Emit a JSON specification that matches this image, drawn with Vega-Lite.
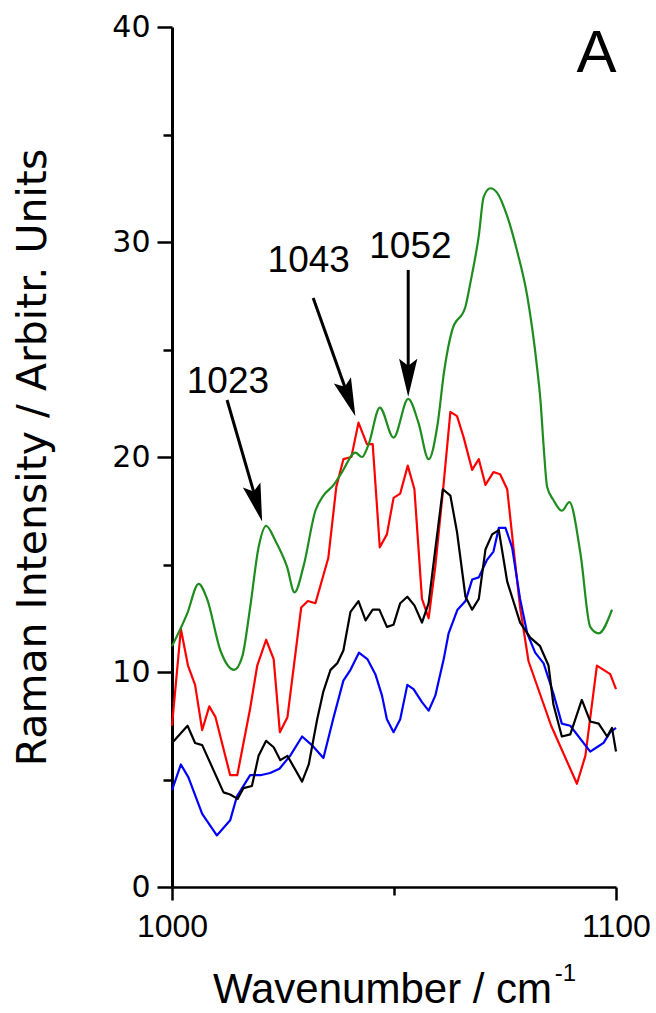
{
  "$schema": "https://vega.github.io/schema/vega-lite/v6.json",
  "width": 444,
  "height": 860,
  "autosize": {"type": "none"},
  "padding": {"left": 172, "top": 27, "right": 40, "bottom": 126},
  "background": "white",
  "config": {
    "view": {"stroke": null},
    "axis": {"grid": false, "domainColor": "black", "tickColor": "black", "labelColor": "black", "titleColor": "black"}
  },
  "datasets": {
    "spectra": [
      {"series": "green", "wn": 1000.0, "intensity": 11.2},
      {"series": "green", "wn": 1003.4, "intensity": 12.7},
      {"series": "green", "wn": 1006.0, "intensity": 14.1},
      {"series": "green", "wn": 1007.9, "intensity": 13.4},
      {"series": "green", "wn": 1010.9, "intensity": 11.0},
      {"series": "green", "wn": 1014.0, "intensity": 10.1},
      {"series": "green", "wn": 1015.8, "intensity": 10.7},
      {"series": "green", "wn": 1017.6, "intensity": 13.0},
      {"series": "green", "wn": 1019.5, "intensity": 15.8},
      {"series": "green", "wn": 1021.2, "intensity": 16.8},
      {"series": "green", "wn": 1023.3, "intensity": 16.1},
      {"series": "green", "wn": 1025.9, "intensity": 14.9},
      {"series": "green", "wn": 1027.6, "intensity": 13.7},
      {"series": "green", "wn": 1029.6, "intensity": 14.9},
      {"series": "green", "wn": 1032.3, "intensity": 17.5},
      {"series": "green", "wn": 1034.1, "intensity": 18.2},
      {"series": "green", "wn": 1036.4, "intensity": 18.7},
      {"series": "green", "wn": 1038.3, "intensity": 19.3},
      {"series": "green", "wn": 1041.3, "intensity": 20.2},
      {"series": "green", "wn": 1042.8, "intensity": 20.0},
      {"series": "green", "wn": 1044.3, "intensity": 20.6},
      {"series": "green", "wn": 1046.8, "intensity": 22.3},
      {"series": "green", "wn": 1049.9, "intensity": 20.9},
      {"series": "green", "wn": 1053.2, "intensity": 22.7},
      {"series": "green", "wn": 1055.5, "intensity": 21.6},
      {"series": "green", "wn": 1057.8, "intensity": 19.9},
      {"series": "green", "wn": 1059.8, "intensity": 21.5},
      {"series": "green", "wn": 1061.3, "intensity": 24.0},
      {"series": "green", "wn": 1063.1, "intensity": 25.9},
      {"series": "green", "wn": 1066.1, "intensity": 27.0},
      {"series": "green", "wn": 1067.2, "intensity": 28.1},
      {"series": "green", "wn": 1069.1, "intensity": 30.3},
      {"series": "green", "wn": 1070.2, "intensity": 32.1},
      {"series": "green", "wn": 1071.7, "intensity": 32.5},
      {"series": "green", "wn": 1073.2, "intensity": 32.3},
      {"series": "green", "wn": 1075.5, "intensity": 31.2},
      {"series": "green", "wn": 1077.7, "intensity": 29.6},
      {"series": "green", "wn": 1080.0, "intensity": 27.5},
      {"series": "green", "wn": 1082.2, "intensity": 24.2},
      {"series": "green", "wn": 1083.0, "intensity": 22.6},
      {"series": "green", "wn": 1083.7, "intensity": 20.5},
      {"series": "green", "wn": 1084.5, "intensity": 18.6},
      {"series": "green", "wn": 1085.9, "intensity": 18.0},
      {"series": "green", "wn": 1087.8, "intensity": 17.5},
      {"series": "green", "wn": 1089.5, "intensity": 17.9},
      {"series": "green", "wn": 1092.0, "intensity": 15.5},
      {"series": "green", "wn": 1094.2, "intensity": 12.1},
      {"series": "green", "wn": 1096.1, "intensity": 11.8},
      {"series": "green", "wn": 1099.1, "intensity": 12.9},

      {"series": "red", "wn": 1000.0, "intensity": 7.5},
      {"series": "red", "wn": 1002.0, "intensity": 12.0},
      {"series": "red", "wn": 1003.6, "intensity": 10.3},
      {"series": "red", "wn": 1005.2, "intensity": 9.4},
      {"series": "red", "wn": 1006.8, "intensity": 7.3},
      {"series": "red", "wn": 1008.4, "intensity": 8.4},
      {"series": "red", "wn": 1009.8, "intensity": 7.9},
      {"series": "red", "wn": 1013.1, "intensity": 5.2},
      {"series": "red", "wn": 1014.7, "intensity": 5.2},
      {"series": "red", "wn": 1017.6, "intensity": 8.3},
      {"series": "red", "wn": 1019.2, "intensity": 10.3},
      {"series": "red", "wn": 1021.2, "intensity": 11.5},
      {"series": "red", "wn": 1022.9, "intensity": 10.6},
      {"series": "red", "wn": 1024.3, "intensity": 7.2},
      {"series": "red", "wn": 1026.0, "intensity": 7.9},
      {"series": "red", "wn": 1029.1, "intensity": 13.0},
      {"series": "red", "wn": 1030.6, "intensity": 13.3},
      {"series": "red", "wn": 1032.3, "intensity": 13.2},
      {"series": "red", "wn": 1035.2, "intensity": 15.3},
      {"series": "red", "wn": 1037.0, "intensity": 18.6},
      {"series": "red", "wn": 1038.6, "intensity": 19.9},
      {"series": "red", "wn": 1040.4, "intensity": 20.0},
      {"series": "red", "wn": 1042.0, "intensity": 21.6},
      {"series": "red", "wn": 1043.9, "intensity": 20.6},
      {"series": "red", "wn": 1045.2, "intensity": 20.6},
      {"series": "red", "wn": 1046.8, "intensity": 15.8},
      {"series": "red", "wn": 1048.4, "intensity": 16.4},
      {"series": "red", "wn": 1049.9, "intensity": 18.1},
      {"series": "red", "wn": 1051.4, "intensity": 18.3},
      {"series": "red", "wn": 1053.1, "intensity": 19.6},
      {"series": "red", "wn": 1054.6, "intensity": 18.5},
      {"series": "red", "wn": 1056.3, "intensity": 13.4},
      {"series": "red", "wn": 1057.8, "intensity": 12.5},
      {"series": "red", "wn": 1059.3, "intensity": 14.9},
      {"series": "red", "wn": 1061.2, "intensity": 18.8},
      {"series": "red", "wn": 1062.7, "intensity": 22.1},
      {"series": "red", "wn": 1064.2, "intensity": 21.9},
      {"series": "red", "wn": 1065.7, "intensity": 20.9},
      {"series": "red", "wn": 1067.6, "intensity": 19.4},
      {"series": "red", "wn": 1069.1, "intensity": 19.9},
      {"series": "red", "wn": 1070.6, "intensity": 18.7},
      {"series": "red", "wn": 1072.4, "intensity": 19.3},
      {"series": "red", "wn": 1073.9, "intensity": 19.2},
      {"series": "red", "wn": 1075.5, "intensity": 18.5},
      {"series": "red", "wn": 1076.9, "intensity": 15.8},
      {"series": "red", "wn": 1078.4, "intensity": 13.0},
      {"series": "red", "wn": 1080.3, "intensity": 10.5},
      {"series": "red", "wn": 1085.4, "intensity": 7.5},
      {"series": "red", "wn": 1091.2, "intensity": 4.8},
      {"series": "red", "wn": 1093.1, "intensity": 6.1},
      {"series": "red", "wn": 1095.7, "intensity": 10.3},
      {"series": "red", "wn": 1098.7, "intensity": 9.9},
      {"series": "red", "wn": 1100.0, "intensity": 9.2},

      {"series": "blue", "wn": 1000.0, "intensity": 4.5},
      {"series": "blue", "wn": 1002.0, "intensity": 5.7},
      {"series": "blue", "wn": 1003.7, "intensity": 5.1},
      {"series": "blue", "wn": 1006.8, "intensity": 3.4},
      {"series": "blue", "wn": 1010.1, "intensity": 2.4},
      {"series": "blue", "wn": 1013.1, "intensity": 3.1},
      {"series": "blue", "wn": 1014.6, "intensity": 4.2},
      {"series": "blue", "wn": 1017.6, "intensity": 5.2},
      {"series": "blue", "wn": 1019.9, "intensity": 5.2},
      {"series": "blue", "wn": 1022.1, "intensity": 5.3},
      {"series": "blue", "wn": 1024.2, "intensity": 5.5},
      {"series": "blue", "wn": 1026.6, "intensity": 6.1},
      {"series": "blue", "wn": 1029.3, "intensity": 7.0},
      {"series": "blue", "wn": 1031.5, "intensity": 6.6},
      {"series": "blue", "wn": 1034.1, "intensity": 6.0},
      {"series": "blue", "wn": 1036.4, "intensity": 7.9},
      {"series": "blue", "wn": 1038.6, "intensity": 9.6},
      {"series": "blue", "wn": 1040.2, "intensity": 10.1},
      {"series": "blue", "wn": 1042.1, "intensity": 10.9},
      {"series": "blue", "wn": 1044.0, "intensity": 10.6},
      {"series": "blue", "wn": 1045.8, "intensity": 9.9},
      {"series": "blue", "wn": 1047.3, "intensity": 8.9},
      {"series": "blue", "wn": 1048.4, "intensity": 7.8},
      {"series": "blue", "wn": 1049.9, "intensity": 7.2},
      {"series": "blue", "wn": 1051.4, "intensity": 7.8},
      {"series": "blue", "wn": 1053.0, "intensity": 9.4},
      {"series": "blue", "wn": 1054.4, "intensity": 9.2},
      {"series": "blue", "wn": 1056.3, "intensity": 8.6},
      {"series": "blue", "wn": 1057.8, "intensity": 8.2},
      {"series": "blue", "wn": 1059.3, "intensity": 8.9},
      {"series": "blue", "wn": 1061.2, "intensity": 10.6},
      {"series": "blue", "wn": 1062.3, "intensity": 11.8},
      {"series": "blue", "wn": 1064.3, "intensity": 12.9},
      {"series": "blue", "wn": 1066.1, "intensity": 13.3},
      {"series": "blue", "wn": 1067.6, "intensity": 14.3},
      {"series": "blue", "wn": 1069.1, "intensity": 14.4},
      {"series": "blue", "wn": 1070.9, "intensity": 15.2},
      {"series": "blue", "wn": 1072.4, "intensity": 15.6},
      {"series": "blue", "wn": 1073.6, "intensity": 16.7},
      {"series": "blue", "wn": 1075.1, "intensity": 16.7},
      {"series": "blue", "wn": 1076.6, "intensity": 15.8},
      {"series": "blue", "wn": 1078.4, "intensity": 13.4},
      {"series": "blue", "wn": 1080.0, "intensity": 11.8},
      {"series": "blue", "wn": 1081.8, "intensity": 10.9},
      {"series": "blue", "wn": 1083.7, "intensity": 10.4},
      {"series": "blue", "wn": 1085.9, "intensity": 9.0},
      {"series": "blue", "wn": 1087.8, "intensity": 7.6},
      {"series": "blue", "wn": 1089.7, "intensity": 7.5},
      {"series": "blue", "wn": 1094.2, "intensity": 6.3},
      {"series": "blue", "wn": 1095.7, "intensity": 6.5},
      {"series": "blue", "wn": 1097.2, "intensity": 6.7},
      {"series": "blue", "wn": 1098.7, "intensity": 7.2},
      {"series": "blue", "wn": 1100.0, "intensity": 7.4},

      {"series": "black", "wn": 1000.0, "intensity": 6.7},
      {"series": "black", "wn": 1003.5, "intensity": 7.5},
      {"series": "black", "wn": 1005.2, "intensity": 6.7},
      {"series": "black", "wn": 1006.8, "intensity": 6.6},
      {"series": "black", "wn": 1011.6, "intensity": 4.4},
      {"series": "black", "wn": 1013.1, "intensity": 4.3},
      {"series": "black", "wn": 1014.8, "intensity": 4.1},
      {"series": "black", "wn": 1016.1, "intensity": 4.6},
      {"series": "black", "wn": 1018.0, "intensity": 4.7},
      {"series": "black", "wn": 1019.5, "intensity": 6.1},
      {"series": "black", "wn": 1021.2, "intensity": 6.8},
      {"series": "black", "wn": 1022.9, "intensity": 6.5},
      {"series": "black", "wn": 1024.4, "intensity": 5.9},
      {"series": "black", "wn": 1026.0, "intensity": 6.1},
      {"series": "black", "wn": 1029.3, "intensity": 4.9},
      {"series": "black", "wn": 1030.8, "intensity": 5.7},
      {"series": "black", "wn": 1032.7, "intensity": 7.8},
      {"series": "black", "wn": 1034.1, "intensity": 9.1},
      {"series": "black", "wn": 1035.7, "intensity": 10.1},
      {"series": "black", "wn": 1037.2, "intensity": 10.4},
      {"series": "black", "wn": 1038.6, "intensity": 11.0},
      {"series": "black", "wn": 1040.2, "intensity": 12.8},
      {"series": "black", "wn": 1042.0, "intensity": 13.3},
      {"series": "black", "wn": 1043.6, "intensity": 12.4},
      {"series": "black", "wn": 1045.2, "intensity": 12.9},
      {"series": "black", "wn": 1046.7, "intensity": 12.9},
      {"series": "black", "wn": 1048.4, "intensity": 12.1},
      {"series": "black", "wn": 1049.9, "intensity": 12.2},
      {"series": "black", "wn": 1051.4, "intensity": 13.2},
      {"series": "black", "wn": 1053.0, "intensity": 13.5},
      {"series": "black", "wn": 1054.6, "intensity": 13.1},
      {"series": "black", "wn": 1056.3, "intensity": 12.3},
      {"series": "black", "wn": 1057.8, "intensity": 13.2},
      {"series": "black", "wn": 1059.3, "intensity": 15.7},
      {"series": "black", "wn": 1061.0, "intensity": 18.5},
      {"series": "black", "wn": 1062.7, "intensity": 18.2},
      {"series": "black", "wn": 1064.2, "intensity": 16.5},
      {"series": "black", "wn": 1066.1, "intensity": 13.5},
      {"series": "black", "wn": 1067.6, "intensity": 12.9},
      {"series": "black", "wn": 1069.1, "intensity": 13.4},
      {"series": "black", "wn": 1070.6, "intensity": 15.7},
      {"series": "black", "wn": 1072.1, "intensity": 16.4},
      {"series": "black", "wn": 1073.6, "intensity": 16.6},
      {"series": "black", "wn": 1075.5, "intensity": 14.2},
      {"series": "black", "wn": 1078.4, "intensity": 12.3},
      {"series": "black", "wn": 1080.7, "intensity": 11.6},
      {"series": "black", "wn": 1082.9, "intensity": 11.2},
      {"series": "black", "wn": 1084.8, "intensity": 10.3},
      {"series": "black", "wn": 1085.9, "intensity": 8.5},
      {"series": "black", "wn": 1087.8, "intensity": 7.0},
      {"series": "black", "wn": 1089.7, "intensity": 7.1},
      {"series": "black", "wn": 1092.3, "intensity": 8.7},
      {"series": "black", "wn": 1094.2, "intensity": 7.7},
      {"series": "black", "wn": 1096.1, "intensity": 7.6},
      {"series": "black", "wn": 1098.0, "intensity": 7.0},
      {"series": "black", "wn": 1099.1, "intensity": 7.4},
      {"series": "black", "wn": 1100.0, "intensity": 6.3}
    ],
    "peaks": [
      {"peak": "1023", "wn": 1012.6, "intensity": 22.96},
      {"peak": "1043", "wn": 1030.8, "intensity": 28.62},
      {"peak": "1052", "wn": 1053.7, "intensity": 29.24}
    ],
    "arrows": [
      {"peak": "1023", "wn": 1012.4, "intensity": 22.65, "wn_end": 1019.1, "intensity_end": 17.88},
      {"peak": "1043", "wn": 1031.8, "intensity": 27.4, "wn_end": 1039.8, "intensity_end": 22.75},
      {"peak": "1052", "wn": 1053.2, "intensity": 28.7, "wn_end": 1053.2, "intensity_end": 23.7}
    ],
    "tips": [
      {"peak": "1023", "wn": 1020.3, "intensity": 17.0},
      {"peak": "1043", "wn": 1041.3, "intensity": 21.9},
      {"peak": "1052", "wn": 1053.2, "intensity": 22.8}
    ],
    "panel": [
      {"tag": "A", "wn": 1095.6, "intensity": 37.9}
    ],
    "unit": [
      {"sup": "-1", "wn": 1088.6, "intensity": -4.35}
    ]
  },
  "layer": [
    {
      "data": {"name": "spectra"},
      "transform": [{"filter": "datum.series !== 'green'"}],
      "mark": {"type": "line", "strokeWidth": 2.2, "strokeJoin": "round"},
      "encoding": {
        "x": {
          "field": "wn", "type": "quantitative",
          "scale": {"domain": [1000, 1100], "nice": false, "zero": false},
          "axis": {
            "values": [1000, 1050, 1100],
            "format": "d",
            "labelExpr": "datum.value === 1050 ? '' : datum.label",
            "labelFont": "Liberation Sans", "labelFontSize": 32, "labelPadding": 11, "labelFlush": false,
            "tickSize": {"condition": {"test": "datum.value === 1050", "value": 8}, "value": 13},
            "tickWidth": 2.5, "domainWidth": 2.5,
            "title": "Wavenumber / cm",
            "titleFont": "Liberation Sans", "titleFontSize": 42, "titleFontWeight": "normal",
            "titleX": 210, "titleY": 115, "titleAlign": "center", "titleBaseline": "alphabetic"
          }
        },
        "y": {
          "field": "intensity", "type": "quantitative",
          "scale": {"domain": [0, 40], "nice": false, "zero": false},
          "axis": {
            "values": [0, 5, 10, 15, 20, 25, 30, 35, 40],
            "labelExpr": "datum.value % 10 === 0 ? datum.label : ''",
            "labelFont": "DejaVu Sans", "labelFontSize": 30, "labelPadding": 7,
            "tickSize": {"condition": {"test": "datum.value % 10 !== 0", "value": 9}, "value": 15},
            "tickWidth": 2.5, "domainWidth": 3,
            "title": "Raman Intensity / Arbitr. Units",
            "titleFont": "DejaVu Sans", "titleFontSize": 41, "titleFontWeight": "normal",
            "titleX": -127, "titleY": 430, "titleAngle": -90, "titleAlign": "center", "titleBaseline": "alphabetic"
          }
        },
        "color": {
          "field": "series", "type": "nominal",
          "scale": {"domain": ["green", "red", "blue", "black"], "range": ["#1e8c1e", "#ff0000", "#0000ff", "#000000"]},
          "legend": null
        }
      }
    },
    {
      "data": {"name": "spectra"},
      "transform": [{"filter": "datum.series === 'green'"}],
      "mark": {"type": "line", "strokeWidth": 2.2, "interpolate": "monotone"},
      "encoding": {
        "x": {"field": "wn", "type": "quantitative"},
        "y": {"field": "intensity", "type": "quantitative"},
        "color": {"field": "series", "type": "nominal", "legend": null}
      }
    },
    {
      "data": {"name": "arrows"},
      "mark": {"type": "rule", "strokeWidth": 3, "color": "black"},
      "encoding": {
        "x": {"field": "wn", "type": "quantitative"},
        "y": {"field": "intensity", "type": "quantitative"},
        "x2": {"field": "wn_end"},
        "y2": {"field": "intensity_end"}
      }
    },
    {
      "data": {"name": "tips"},
      "transform": [{"filter": "datum.peak === '1023'"}],
      "mark": {"type": "point", "shape": "M0,0 L0.24,1 L0,0.82 L-0.24,1 Z", "size": 5776, "filled": true, "color": "black", "opacity": 1, "angle": 164},
      "encoding": {
        "x": {"field": "wn", "type": "quantitative"},
        "y": {"field": "intensity", "type": "quantitative"}
      }
    },
    {
      "data": {"name": "tips"},
      "transform": [{"filter": "datum.peak === '1043'"}],
      "mark": {"type": "point", "shape": "M0,0 L0.24,1 L0,0.82 L-0.24,1 Z", "size": 5776, "filled": true, "color": "black", "opacity": 1, "angle": 160},
      "encoding": {
        "x": {"field": "wn", "type": "quantitative"},
        "y": {"field": "intensity", "type": "quantitative"}
      }
    },
    {
      "data": {"name": "tips"},
      "transform": [{"filter": "datum.peak === '1052'"}],
      "mark": {"type": "point", "shape": "M0,0 L0.24,1 L0,0.82 L-0.24,1 Z", "size": 5776, "filled": true, "color": "black", "opacity": 1, "angle": 180},
      "encoding": {
        "x": {"field": "wn", "type": "quantitative"},
        "y": {"field": "intensity", "type": "quantitative"}
      }
    },
    {
      "data": {"name": "peaks"},
      "mark": {"type": "text", "font": "Liberation Sans", "fontSize": 37, "align": "center", "baseline": "alphabetic", "color": "black"},
      "encoding": {
        "x": {"field": "wn", "type": "quantitative"},
        "y": {"field": "intensity", "type": "quantitative"},
        "text": {"field": "peak"}
      }
    },
    {
      "data": {"name": "panel"},
      "mark": {"type": "text", "font": "Liberation Sans", "fontSize": 60, "align": "center", "baseline": "alphabetic", "color": "black"},
      "encoding": {
        "x": {"field": "wn", "type": "quantitative"},
        "y": {"field": "intensity", "type": "quantitative"},
        "text": {"field": "tag"}
      }
    },
    {
      "data": {"name": "unit"},
      "mark": {"type": "text", "font": "Liberation Sans", "fontSize": 24, "align": "center", "baseline": "alphabetic", "color": "black"},
      "encoding": {
        "x": {"field": "wn", "type": "quantitative"},
        "y": {"field": "intensity", "type": "quantitative"},
        "text": {"field": "sup"}
      }
    }
  ]
}
